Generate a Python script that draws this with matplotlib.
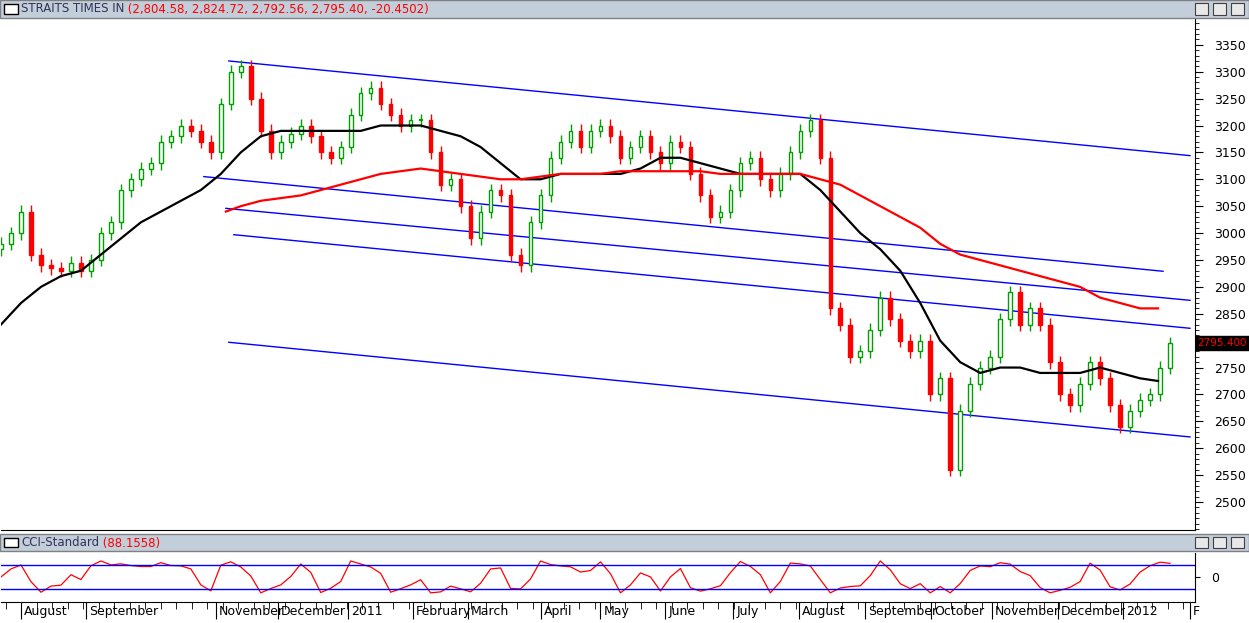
import numpy as np
import pandas as pd
import matplotlib
matplotlib.use("Agg")
import matplotlib.pyplot as plt
import matplotlib.transforms as mtrans
from matplotlib.patches import Rectangle

# closes sampled every 10 px of the time axis
closes = [2980,3000,3040,2960,2940,2935,2930,2945,2930,2950,3000,3020,3080,3100,3120,3130,3170,3180,3200,3190,
          3170,3150,3240,3300,3310,3250,3190,3150,3170,3185,3200,3180,3150,3140,3160,3220,3260,3270,3240,3220,
          3200,3210,3210,3150,3090,3100,3050,2990,3040,3080,3070,2960,2940,3020,3070,3140,3170,3190,3160,3190,
          3200,3180,3140,3160,3180,3150,3130,3170,3160,3110,3070,3030,3040,3080,3130,3140,3100,3080,3110,3150,
          3190,3210,3140,2860,2830,2770,2780,2820,2880,2840,2800,2780,2800,2700,2730,2560,2670,2720,2750,2770,
          2840,2890,2830,2860,2830,2760,2700,2680,2720,2760,2730,2680,2640,2670,2690,2700,2750,2795]
ma_black_x = list(range(0, 1160, 20)) + [1158]
ma_black = [2830,2870,2900,2920,2930,2960,2990,3020,3040,3060,3080,3110,3150,3180,3190,3190,3190,3190,3190,3200,
            3200,3200,3190,3180,3160,3130,3100,3100,3110,3110,3110,3110,3120,3140,3140,3130,3120,3110,3110,3110,
            3110,3080,3040,3000,2970,2930,2870,2800,2760,2740,2750,2750,2740,2740,2740,2750,2740,2730,2725]
ma_red_x = [225] + list(range(240, 1160, 20)) + [1158]
ma_red = [3040,3050,3060,3065,3070,3080,3090,3100,3110,3115,3120,3115,3110,3105,3100,3100,3105,3110,3110,3110,
          3115,3115,3115,3115,3115,3110,3110,3110,3110,3110,3100,3090,3070,3050,3030,3010,2980,2960,2950,2940,
          2930,2920,2910,2900,2880,2870,2860,2860]
channels = [((228, 3320), (1190, 3144)), ((203, 3105), (1163, 2929)), ((225, 3046), (1190, 2875)),
            ((233, 2997), (1190, 2823)), ((228, 2797), (1190, 2621))]
month_labels = ["August", "September", "November", "December", "2011", "February", "March", "April", "May",
                "June", "July", "August", "September", "October", "November", "December", "2012", "F"]
month_pos = [20, 85, 215, 277, 347, 412, 467, 540, 600, 665, 733, 799, 865, 931, 992, 1058, 1123, 1190]
yticks = [v for v in range(2500, 3351, 50) if v != 2800]

W, H = 1249, 623
fig = plt.figure(figsize=(W/100, H/100), dpi=100)
fig.patch.set_facecolor("white")

def fx(px): return px / W
def fy(py): return 1 - py / H

for y0, y1 in [(0, 18), (534, 551)]:
    fig.patches.append(Rectangle((0, fy(y1)), 1, fy(y0) - fy(y1), transform=fig.transFigure,
                                 facecolor="#c3cedb", edgecolor="#808080", lw=1))
    fig.patches.append(Rectangle((fx(4), fy(y1 - 4)), fx(14), fy(y0 + 4) - fy(y1 - 4), transform=fig.transFigure,
                                 facecolor="white", edgecolor="black", lw=1))
    for bx in [1195, 1213, 1231]:
        fig.patches.append(Rectangle((fx(bx), fy(y1 - 3)), fx(13), fy(y0 + 3) - fy(y1 - 3), transform=fig.transFigure,
                                     facecolor="#e8e8e8", edgecolor="#404040", lw=0.8))
t1 = fig.text(fx(21), fy(9), "STRAITS TIMES IN", fontsize=8.5, color="#333355", va="center")
fig.texts.append(plt.Annotation(" (2,804.58, 2,824.72, 2,792.56, 2,795.40, -20.4502)", xy=(1, 0.5), xycoords=t1,
                                va="center", fontsize=8.5, color="red"))
t2 = fig.text(fx(21), fy(543), "CCI-Standard", fontsize=8.5, color="#333355", va="center")
fig.texts.append(plt.Annotation(" (88.1558)", xy=(1, 0.5), xycoords=t2, va="center", fontsize=8.5, color="red"))
for a in fig.texts:
    a.set_figure(fig)

ax = fig.add_axes([fx(1), fy(530), fx(1194), fy(19) - fy(530)])
ax.set_xlim(0, 1195)
ax.set_ylim(2448, 3398)
closes_a = np.array(closes, float)
xs = np.arange(len(closes)) * 10
opens = np.r_[closes_a[0] - 10, closes_a[:-1]]
for x, o, c in zip(xs, opens, closes_a):
    hi, lo = max(o, c) + 12, min(o, c) - 12
    col = "#00a000" if c >= o else "red"
    ax.vlines(x, lo, hi, color=col, lw=1, zorder=3)
    ax.add_patch(Rectangle((x - 1.8, min(o, c)), 3.6, max(abs(c - o), 2), facecolor="white" if c >= o else "red",
                           edgecolor=col, lw=1, zorder=4))
ax.plot(ma_black_x, ma_black, color="black", lw=1.6, zorder=5)
ax.plot(ma_red_x, ma_red, color="red", lw=1.6, zorder=5)
for (x0, p0), (x1, p1) in channels:
    ax.plot([x0, x1], [p0, p1], color="blue", lw=1, zorder=2)
ax.set_xticks([])
ax.yaxis.tick_right()
ax.set_yticks(yticks)
ax.set_yticks(np.arange(2450, 3400, 10), minor=True)
ax.tick_params(axis="y", which="major", length=6, labelsize=9, pad=8)
ax.tick_params(axis="y", which="minor", length=3)
for s in ["top", "left"]:
    ax.spines[s].set_visible(False)
ax.text(1.002, (2795.4 - 2448) / (3398 - 2448), "2795.400", transform=ax.transAxes, fontsize=7.5, color="red",
        va="center", ha="left", bbox=dict(facecolor="black", edgecolor="black", pad=1.2))

# CCI
df = pd.DataFrame({"h": np.maximum(opens, closes_a) + 12, "l": np.minimum(opens, closes_a) - 12, "c": closes_a})
tp = (df.h + df.l + df.c) / 3
n = 4
sma = tp.rolling(n, min_periods=1).mean()
mad = tp.rolling(n, min_periods=1).apply(lambda v: np.mean(np.abs(v - v.mean())), raw=True)
cci = ((tp - sma) / (0.015 * mad.replace(0, np.nan))).fillna(0).clip(-180, 180)
cx = fig.add_axes([fx(1), fy(602), fx(1194), fy(553) - fy(602)])
cx.set_xlim(0, 1195)
cx.set_ylim(-210, 200)
cx.plot(xs, cci, color="red", lw=0.9)
cx.axhline(100, color="blue", lw=1)
cx.axhline(-100, color="blue", lw=1)
cx.yaxis.tick_right()
cx.set_yticks([0])
cx.tick_params(axis="y", labelsize=9, pad=8)
cx.set_xticks(month_pos)
cx.set_xticklabels(month_labels, fontsize=9, ha="left")
cx.set_xticks(np.arange(5, 1195, 15.5), minor=True)
cx.tick_params(axis="x", which="major", direction="out", length=12, pad=-10, labelsize=9)
cx.tick_params(axis="x", which="minor", direction="out", length=5)
for s in ["top", "left"]:
    cx.spines[s].set_visible(False)
off = mtrans.ScaledTranslation(3/100, 0, fig.dpi_scale_trans)
for lab in cx.get_xticklabels():
    lab.set_transform(lab.get_transform() + off)
fig.savefig("out.png", dpi=100)
